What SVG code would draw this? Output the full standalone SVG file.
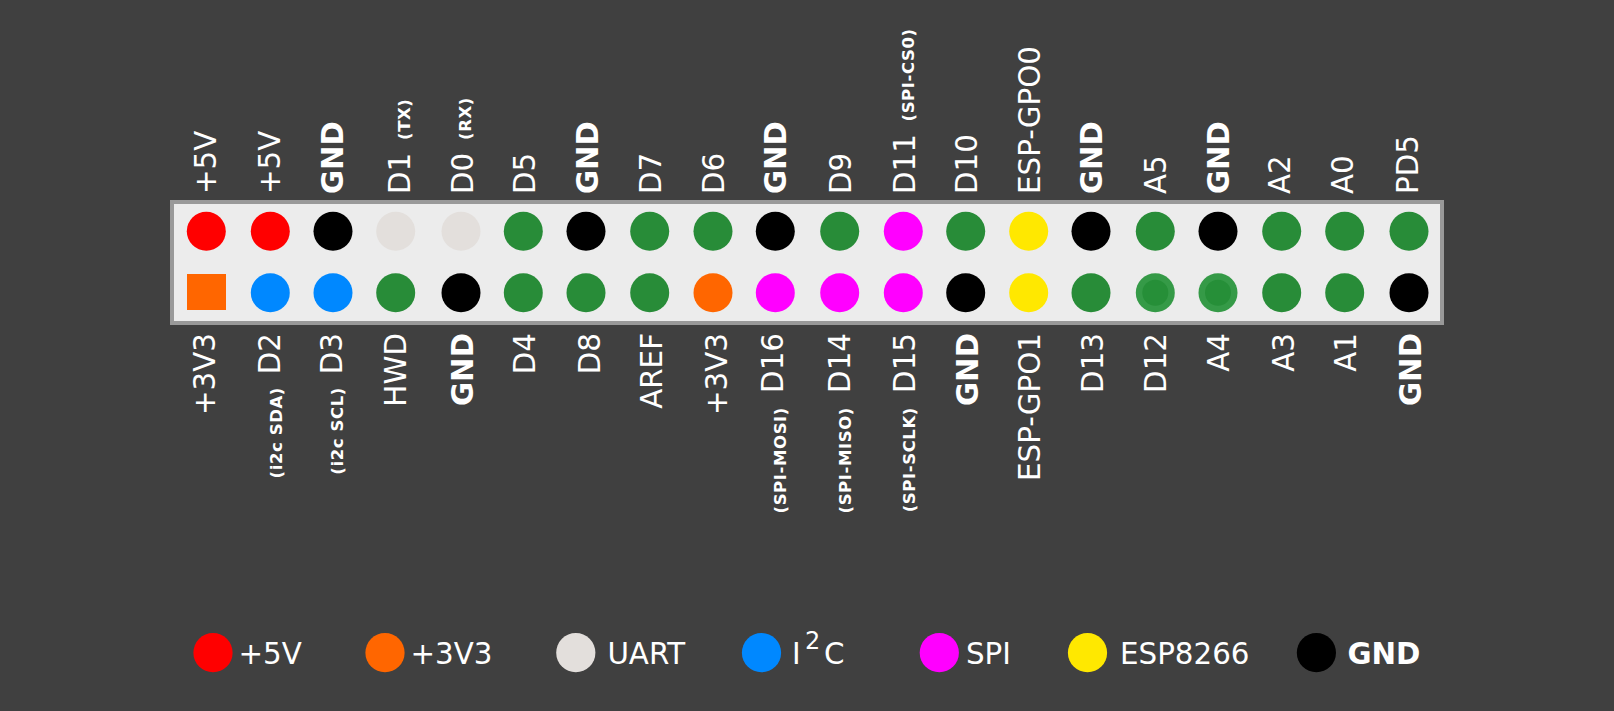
<svg xmlns="http://www.w3.org/2000/svg" width="1614" height="711" viewBox="0 0 1614 711">
<style>
text{font-family:"DejaVu Sans","Verdana",sans-serif;fill:#fff}
.l{font-size:29.33px}
.b{font-weight:bold}
.s{font-size:16.5px;font-weight:bold;letter-spacing:0.6px}
.t{text-anchor:start}
.e{text-anchor:end}
.red{fill:#ff0000}.org{fill:#ff6600}.uart{fill:#e3dfdc}.blu{fill:#0088ff}
.grn{fill:#288c38}.mag{fill:#ff00ff}.yel{fill:#ffe800}.blk{fill:#000}
.g2o{fill:#359a47}.g2i{fill:#268f38}
</style>
<rect x="0" y="0" width="1614" height="711" fill="#404040"/>
<rect id="board" x="172" y="202" width="1270" height="121" fill="#ececec" stroke="#999" stroke-width="4"/>

<g id="col0">
<circle class="red" cx="206.3" cy="231.3" r="19.5"/>
<rect class="org" x="187" y="274" width="39" height="36"/>
<text class="l t" transform="translate(216,194) rotate(-90)">+5V</text>
<text class="l e" transform="translate(215,333) rotate(-90)">+3V3</text>
</g>
<g id="col1">
<circle class="red" cx="270.3" cy="231.3" r="19.5"/>
<circle class="blu" cx="270.3" cy="292.7" r="19.5"/>
<text class="l t" transform="translate(280,194) rotate(-90)">+5V</text>
<text class="l e" transform="translate(280,333) rotate(-90)">D2</text>
<text class="s e" transform="translate(282,387) rotate(-90)">(i2c SDA)</text>
</g>
<g id="col2">
<circle class="blk" cx="333" cy="231.3" r="19.5"/>
<circle class="blu" cx="333" cy="292.7" r="19.5"/>
<text class="l b t" transform="translate(343.3,194) rotate(-90)">GND</text>
<text class="l e" transform="translate(341.7,333) rotate(-90)">D3</text>
<text class="s e" transform="translate(343,387) rotate(-90)">(i2c SCL)</text>
</g>
<g id="col3">
<circle class="uart" cx="395.7" cy="231.3" r="19.5"/>
<circle class="grn" cx="395.7" cy="292.7" r="19.5"/>
<text class="l t" transform="translate(410,194) rotate(-90)">D1</text>
<text class="s t" transform="translate(409.5,140) rotate(-90)">(TX)</text>
<text class="l e" transform="translate(406,333) rotate(-90)">HWD</text>
</g>
<g id="col4">
<circle class="uart" cx="461" cy="231.3" r="19.5"/>
<circle class="blk" cx="461" cy="292.7" r="19.5"/>
<text class="l t" transform="translate(472.5,194) rotate(-90)">D0</text>
<text class="s t" transform="translate(471.3,140) rotate(-90)">(RX)</text>
<text class="l b e" transform="translate(473.3,333) rotate(-90)">GND</text>
</g>
<g id="col5">
<circle class="grn" cx="523.3" cy="231.3" r="19.5"/>
<circle class="grn" cx="523.3" cy="292.7" r="19.5"/>
<text class="l t" transform="translate(535,194) rotate(-90)">D5</text>
<text class="l e" transform="translate(535,333) rotate(-90)">D4</text>
</g>
<g id="col6">
<circle class="blk" cx="586" cy="231.3" r="19.5"/>
<circle class="grn" cx="586" cy="292.7" r="19.5"/>
<text class="l b t" transform="translate(597.5,194) rotate(-90)">GND</text>
<text class="l e" transform="translate(600,333) rotate(-90)">D8</text>
</g>
<g id="col7">
<circle class="grn" cx="649.7" cy="231.3" r="19.5"/>
<circle class="grn" cx="649.7" cy="292.7" r="19.5"/>
<text class="l t" transform="translate(661,194) rotate(-90)">D7</text>
<text class="l e" transform="translate(661.7,333) rotate(-90)">AREF</text>
</g>
<g id="col8">
<circle class="grn" cx="713" cy="231.3" r="19.5"/>
<circle class="org" cx="713" cy="292.7" r="19.5"/>
<text class="l t" transform="translate(724,194) rotate(-90)">D6</text>
<text class="l e" transform="translate(726.7,333) rotate(-90)">+3V3</text>
</g>
<g id="col9">
<circle class="blk" cx="775.3" cy="231.3" r="19.5"/>
<circle class="mag" cx="775.3" cy="292.7" r="19.5"/>
<text class="l b t" transform="translate(786,194) rotate(-90)">GND</text>
<text class="l e" transform="translate(783.3,333) rotate(-90)">D16</text>
<text class="s e" transform="translate(786,407) rotate(-90)">(SPI-MOSI)</text>
</g>
<g id="col10">
<circle class="grn" cx="839.7" cy="231.3" r="19.5"/>
<circle class="mag" cx="839.7" cy="292.7" r="19.5"/>
<text class="l t" transform="translate(851,194) rotate(-90)">D9</text>
<text class="l e" transform="translate(850,333) rotate(-90)">D14</text>
<text class="s e" transform="translate(851,407) rotate(-90)">(SPI-MISO)</text>
</g>
<g id="col11">
<circle class="mag" cx="903.3" cy="231.3" r="19.5"/>
<circle class="mag" cx="903.3" cy="292.7" r="19.5"/>
<text class="l t" transform="translate(914.5,194) rotate(-90)">D11</text>
<text class="s t" transform="translate(914,121.5) rotate(-90)">(SPI-CS0)</text>
<text class="l e" transform="translate(915,333) rotate(-90)">D15</text>
<text class="s e" transform="translate(915,407) rotate(-90)">(SPI-SCLK)</text>
</g>
<g id="col12">
<circle class="grn" cx="965.7" cy="231.3" r="19.5"/>
<circle class="blk" cx="965.7" cy="292.7" r="19.5"/>
<text class="l t" transform="translate(977,194) rotate(-90)">D10</text>
<text class="l b e" transform="translate(978.3,333) rotate(-90)">GND</text>
</g>
<g id="col13">
<circle class="yel" cx="1028.7" cy="231.3" r="19.5"/>
<circle class="yel" cx="1028.7" cy="292.7" r="19.5"/>
<text class="l t" transform="translate(1039.5,194) rotate(-90)">ESP-GPO0</text>
<text class="l e" transform="translate(1039.5,333) rotate(-90)">ESP-GPO1</text>
</g>
<g id="col14">
<circle class="blk" cx="1091" cy="231.3" r="19.5"/>
<circle class="grn" cx="1091" cy="292.7" r="19.5"/>
<text class="l b t" transform="translate(1101.5,194) rotate(-90)">GND</text>
<text class="l e" transform="translate(1102.5,333) rotate(-90)">D13</text>
</g>
<g id="col15">
<circle class="grn" cx="1155.3" cy="231.3" r="19.5"/>
<circle class="g2o" cx="1155.3" cy="292.7" r="19.5"/>
<circle class="g2i" cx="1155.3" cy="292.7" r="13"/>
<text class="l t" transform="translate(1165.5,194) rotate(-90)">A5</text>
<text class="l e" transform="translate(1165.5,333) rotate(-90)">D12</text>
</g>
<g id="col16">
<circle class="blk" cx="1218" cy="231.3" r="19.5"/>
<circle class="g2o" cx="1218" cy="292.7" r="19.5"/>
<circle class="g2i" cx="1218" cy="292.7" r="13"/>
<text class="l b t" transform="translate(1228.5,194) rotate(-90)">GND</text>
<text class="l e" transform="translate(1229,333) rotate(-90)">A4</text>
</g>
<g id="col17">
<circle class="grn" cx="1281.7" cy="231.3" r="19.5"/>
<circle class="grn" cx="1281.7" cy="292.7" r="19.5"/>
<text class="l t" transform="translate(1289.5,194) rotate(-90)">A2</text>
<text class="l e" transform="translate(1294,333) rotate(-90)">A3</text>
</g>
<g id="col18">
<circle class="grn" cx="1344.7" cy="231.3" r="19.5"/>
<circle class="grn" cx="1344.7" cy="292.7" r="19.5"/>
<text class="l t" transform="translate(1353,194) rotate(-90)">A0</text>
<text class="l e" transform="translate(1356,333) rotate(-90)">A1</text>
</g>
<g id="col19">
<circle class="grn" cx="1409" cy="231.3" r="19.5"/>
<circle class="blk" cx="1409" cy="292.7" r="19.5"/>
<text class="l t" transform="translate(1418,194) rotate(-90)">PD5</text>
<text class="l b e" transform="translate(1421,333) rotate(-90)">GND</text>
</g>

<g id="legend-5v"><circle class="red" cx="213" cy="652.7" r="19.6"/><text class="l" x="238.5" y="663.5">+5V</text></g>
<g id="legend-3v3"><circle class="org" cx="385" cy="652.7" r="19.6"/><text class="l" x="410.5" y="663.5">+3V3</text></g>
<g id="legend-uart"><circle class="uart" cx="575.8" cy="652.7" r="19.6"/><text class="l" x="607.4" y="663.5">UART</text></g>
<g id="legend-i2c"><circle class="blu" cx="761.5" cy="652.7" r="19.6"/><text class="l" x="792" y="663.5">I<tspan x="805" y="649.3" font-size="24">2</tspan><tspan x="824" y="663.5">C</tspan></text></g>
<g id="legend-spi"><circle class="mag" cx="939.3" cy="652.7" r="19.6"/><text class="l" x="966" y="663.5">SPI</text></g>
<g id="legend-esp"><circle class="yel" cx="1087.5" cy="652.7" r="19.6"/><text class="l" x="1120" y="663.5">ESP8266</text></g>
<g id="legend-gnd"><circle class="blk" cx="1316.4" cy="652.7" r="19.6"/><text class="l b" x="1347.5" y="663.5">GND</text></g>
</svg>
